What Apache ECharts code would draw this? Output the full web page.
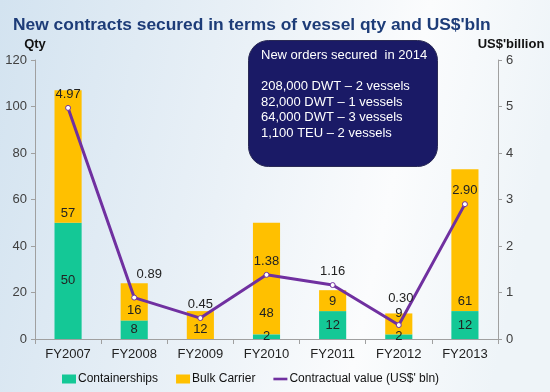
<!DOCTYPE html>
<html><head><meta charset="utf-8">
<script src="https://cdn.jsdelivr.net/npm/echarts@6/dist/echarts.min.js"></script>
<style>html,body{margin:0;padding:0;}#c{width:550px;height:392px;}</style>
</head><body><div id="c"></div>
<script>
const categories = ['FY2007','FY2008','FY2009','FY2010','FY2011','FY2012','FY2013'];
const containerships = [50, 8, 0, 2, 12, 2, 12];
const bulkCarrier = [57, 16, 12, 48, 9, 9, 61];
const contractValue = [4.97, 0.89, 0.45, 1.38, 1.16, 0.30, 2.90];
const boxLines = ['New orders secured  in 2014', '', '208,000 DWT – 2 vessels', '82,000 DWT – 1 vessels', '64,000 DWT – 3 vessels', '1,100 TEU – 2 vessels'];

const font = 'Liberation Sans, Arial, sans-serif';
// label nudges (styling only) to mirror the reference placement
const bulkData = bulkCarrier.map((v, i) => (i === 3 || i === 5) ? {value: v, label: {offset: [0, -11]}} : v);
const lineData = contractValue.map((v, i) => i === 1 ? {value: v, label: {offset: [15, -10]}} : i === 5 ? {value: v, label: {offset: [2, -13]}} : v);

const chart = echarts.init(document.getElementById('c'), null, {renderer:'canvas'});
chart.setOption({
  animation:false,
  backgroundColor:{type:'linear',x:0,y:0,x2:1,y2:0.3,colorStops:[{offset:0,color:'#d3e3f0'},{offset:0.45,color:'#eaf1f7'},{offset:0.75,color:'#fbfcfd'},{offset:1,color:'#eef4f8'}]},
  textStyle:{fontFamily:font},
  title:{text:"New contracts secured in terms of vessel qty and US$'bln",left:8,top:12,textStyle:{fontFamily:font,fontSize:17.4,fontWeight:'bold',color:'#1d3c78'}},
  grid:{left:35,right:52,top:60,bottom:53},
  legend:{left:57,top:368,itemWidth:14,itemHeight:9,itemGap:18,textStyle:{fontFamily:font,fontSize:12,color:'#111',padding:[0,0,0,-3]},
    data:[{name:'Containerships',icon:'rect'},{name:'Bulk Carrier',icon:'rect'},
          {name:"Contractual value (US$' bln)",icon:'path://M0,0h16v3h-16z',itemStyle:{color:'#7030a0',borderWidth:0}}]},
  xAxis:{type:'category',data:categories,axisLine:{lineStyle:{color:'#a0a0a0'}},axisTick:{show:true,lineStyle:{color:'#a0a0a0'}},
    axisLabel:{fontFamily:font,fontSize:13,color:'#222',margin:9}},
  yAxis:[
    {type:'value',min:0,max:120,interval:20,name:'Qty',nameLocation:'end',nameGap:9,nameTextStyle:{fontFamily:font,fontSize:13,fontWeight:'bold',color:'#111',align:'center'},
     axisLine:{show:true,lineStyle:{color:'#a0a0a0'}},axisTick:{show:true,length:4,lineStyle:{color:'#a0a0a0'}},splitLine:{show:false},
     axisLabel:{fontFamily:font,fontSize:13,color:'#404040',margin:8}},
    {type:'value',min:0,max:6,interval:1,name:"US$'billion",nameLocation:'end',nameGap:9,nameTextStyle:{fontFamily:font,fontSize:13,fontWeight:'bold',color:'#111',align:'center',padding:[0,0,0,26]},
     axisLine:{show:true,lineStyle:{color:'#a0a0a0'}},axisTick:{show:true,length:4,lineStyle:{color:'#a0a0a0'}},splitLine:{show:false},
     axisLabel:{fontFamily:font,fontSize:13,color:'#404040',margin:8}}
  ],
  graphic:[
    {type:'rect',left:248,top:40,shape:{width:189,height:126,r:20},style:{fill:'#1a1a66',stroke:'#2a2a55',lineWidth:1},z:10},
    {type:'text',left:261,top:48,style:{text:boxLines.join('\n'),fill:'#ffffff',font:'13px Liberation Sans, Arial, sans-serif',lineHeight:15.5},z:11}
  ],
  series:[
    {name:'Containerships',type:'bar',stack:'q',data:containerships,barWidth:'41%',itemStyle:{color:'#14c896'},
     label:{show:true,position:'inside',fontFamily:font,fontSize:13,color:'#222',formatter:p=>p.value?p.value:''}},
    {name:'Bulk Carrier',type:'bar',stack:'q',data:bulkData,barWidth:'41%',itemStyle:{color:'#ffc000'},
     label:{show:true,position:'insideBottom',distance:3,fontFamily:font,fontSize:13,color:'#222'}},
    {name:"Contractual value (US$' bln)",type:'line',yAxisIndex:1,data:lineData,z:5,
     lineStyle:{color:'#7030a0',width:3},itemStyle:{color:'#ffffff',borderColor:'#7030a0',borderWidth:1},symbol:'circle',symbolSize:5,
     label:{show:true,position:'top',distance:4,fontFamily:font,fontSize:13,color:'#222',formatter:p=>p.value.toFixed(2)}}
  ]
});
</script></body></html>
